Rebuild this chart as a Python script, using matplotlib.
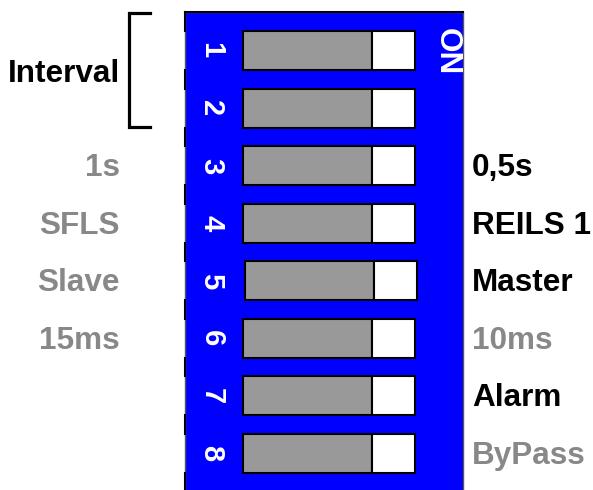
import matplotlib
matplotlib.use("Agg")
import matplotlib.pyplot as plt

# ---- data ----
switch_numbers = [1, 2, 3, 4, 5, 6, 7, 8]
left_labels = ["", "", "1s", "SFLS", "Slave", "15ms", "", ""]
right_labels = ["", "", "0,5s", "REILS 1", "Master", "10ms", "Alarm", "ByPass"]
right_selected = [False, False, True, True, True, False, True, False]
group_label = "Interval"
group_switches = [1, 2]
on_label = "ON"
# slider state: knob sits at the ON (right) end for every switch
knob_at_on = [True] * 8

# ---- style ----
BLUE = "#0000FF"
SW_GRAY = "#999999"
TXT_GRAY = "#888888"
FONT = "Liberation Sans"
FS = 22.7
FS_NUM = 21

fig = plt.figure(figsize=(5.93, 4.90), dpi=100)
ax = fig.add_axes([0, 0, 1, 1])
ax.set_xlim(0, 593)
ax.set_ylim(8.634, 0.123)
ax.axis("off")

pitch = 57.57  # px per switch
def py(p):  # pixel -> switch units
    return 1 + (p - 50.5) / pitch

# blue body
top = py(12)
ax.add_patch(plt.Rectangle((185, top), 278, 9.0 - top, facecolor=BLUE,
                           edgecolor="#555555", linewidth=1.0, zorder=1))
ax.plot([185, 463], [top, top], color="black", lw=1.5, zorder=2)

h = 39 / pitch
track_left, track_right, knob_w = 243, 415, 43
for i, n in enumerate(switch_numbers):
    xoff = 1.5 if n == 5 else 0
    if knob_at_on[i]:
        ax.barh(n, track_right - knob_w - track_left, left=track_left + xoff, height=h,
                color=SW_GRAY, edgecolor="black", linewidth=1.5, zorder=3)
        ax.barh(n, knob_w, left=track_right - knob_w + xoff, height=h,
                color="white", edgecolor="black", linewidth=1.5, zorder=3)
    ax.text(211.5, n, str(n), rotation=-90, color="white", fontsize=FS_NUM,
            fontweight="bold", family=FONT, ha="center", va="center", zorder=4)
    # black marks on left edge between switches
    if n < 8:
        ax.plot([185, 185], [n + h / 2, n + 1 - h / 2], color="black", lw=1.5, zorder=2)
    if n == 1:
        ax.plot([185, 185], [top, n - h / 2], color="black", lw=1.5, zorder=2)
ax.plot([185, 185], [8 + h / 2, py(490)], color="black", lw=1.5, zorder=2)

ax.text(447, py(52), on_label, rotation=-90, color="white", fontsize=FS,
        fontweight="bold", family=FONT, ha="center", va="center", zorder=4)

base_off = 10.5 / pitch
for i, n in enumerate(switch_numbers):
    if left_labels[i]:
        ax.text(120, n + base_off, left_labels[i], color=TXT_GRAY, fontsize=FS,
                fontweight="bold", family=FONT, ha="right", va="baseline")
    if right_labels[i]:
        ax.text(472, n + base_off, right_labels[i],
                color="black" if right_selected[i] else TXT_GRAY, fontsize=FS,
                fontweight="bold", family=FONT, ha="left", va="baseline")

# bracket for group
by0, by1 = py(13), py(127)
ax.plot([150, 129, 129, 150], [by0, by0, by1, by1], color="black", lw=2.3,
        solid_joinstyle="miter", zorder=2)
ax.text(120, py(82), group_label, color="black", fontsize=FS, fontweight="bold",
        family=FONT, ha="right", va="baseline")

fig.savefig("out.png", dpi=100)
